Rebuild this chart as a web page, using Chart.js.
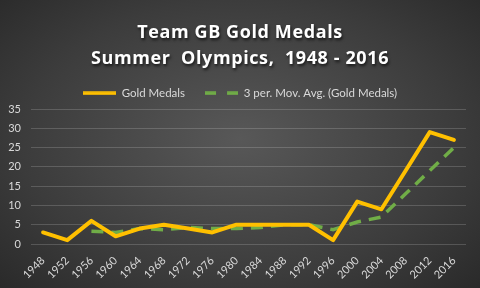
<!DOCTYPE html>
<html>
<head>
<meta charset="utf-8">
<script src="https://cdn.jsdelivr.net/npm/chart.js@4/dist/chart.umd.min.js"></script>
<style>
  html,body{margin:0;padding:0;}
  body{width:480px;height:288px;overflow:hidden;
    background:radial-gradient(ellipse 75% 80% at 50% 48%, #585858 0%, #3c3c3c 60%, #262626 100%);}
  canvas{display:block;}
</style>
</head>
<body>
<canvas id="c" width="480" height="288"></canvas>
<script>
const years = ['1948','1952','1956','1960','1964','1968','1972','1976','1980','1984','1988','1992','1996','2000','2004','2008','2012','2016'];
const goldMedals = [3,1,6,2,4,5,4,3,5,5,5,5,1,11,9,19,29,27];
// 3 period moving average (no value for the first two years)
const movAvg = [null,null,3.3,3,4,3.7,4.3,4,4,4.3,5,5,3.7,5.7,7,13,19,25];
const titleLines = ['Team GB Gold Medals','Summer  Olympics,  1948 - 2016'];
const seriesNames = ['Gold Medals','3 per. Mov. Avg. (Gold Medals)'];

const GOLD='#FFC000', GREEN='#70AD47', TXT='#d9d9d9';
Chart.defaults.font.family='Lato';

// small legend icons: solid line and dashed line
function icon(color,dash){
  const cv=document.createElement('canvas'); cv.width=33; cv.height=4;
  const g=cv.getContext('2d');
  g.strokeStyle=color; g.lineWidth=3.5; g.setLineDash(dash);
  g.beginPath(); g.moveTo(0,2); g.lineTo(33,2); g.stroke();
  return cv;
}
const icons=[icon(GOLD,[]),icon(GREEN,[11,11])];

// title gets a drop shadow and a bit of letter spacing like the original
const titleStyle={
  id:'titleStyle',
  afterInit(chart){
    const tb=chart.titleBlock; if(!tb) return;
    const d=tb.draw.bind(tb);
    tb.draw=function(){
      const ctx=chart.ctx; ctx.save();
      ctx.letterSpacing='0.6px';
      ctx.shadowColor='rgba(0,0,0,0.7)'; ctx.shadowOffsetX=1; ctx.shadowOffsetY=2; ctx.shadowBlur=3;
      d(); ctx.restore();
    };
  }
};

new Chart(document.getElementById('c'),{
  type:'line',
  data:{labels:years,datasets:[
    {label:seriesNames[0],data:goldMedals,borderColor:GOLD,backgroundColor:GOLD,borderWidth:4,
     pointRadius:0,tension:0,borderJoinStyle:'round',borderCapStyle:'round'},
    {label:seriesNames[1],data:movAvg,borderColor:GREEN,backgroundColor:GREEN,borderWidth:3.5,
     borderDash:[12,8],pointRadius:0,tension:0}
  ]},
  options:{
    responsive:false,animation:false,devicePixelRatio:1,
    layout:{padding:0},
    plugins:{
      title:{display:true,text:titleLines,color:'#ffffff',
        font:{family:'Open Sans',size:18,weight:'bold',lineHeight:26/18},padding:{top:9,bottom:-4.5}},
      legend:{display:true,labels:{color:TXT,font:{size:11.5},usePointStyle:true,pointStyleWidth:33,padding:20,
        generateLabels:(chart)=>chart.data.datasets.map((ds,i)=>({
          text:ds.label,fillStyle:ds.borderColor,strokeStyle:ds.borderColor,lineWidth:0,
          pointStyle:icons[i],datasetIndex:i,hidden:false,fontColor:TXT}))}},
      tooltip:{enabled:false}
    },
    scales:{
      x:{offset:true,grid:{display:false,drawTicks:false},border:{display:false},
        ticks:{color:TXT,font:{size:11},minRotation:45,maxRotation:45,padding:10,autoSkip:false},
        afterFit:s=>{s.height=44;s.paddingRight=14;}},
      y:{min:0,max:35,grid:{color:'rgba(255,255,255,0.17)',drawTicks:false},border:{display:false},
        ticks:{stepSize:5,color:TXT,font:{size:11},padding:10},
        afterFit:s=>{s.width=31;s.paddingTop=109;}}
    }
  },
  plugins:[titleStyle]
});
</script>
</body>
</html>
